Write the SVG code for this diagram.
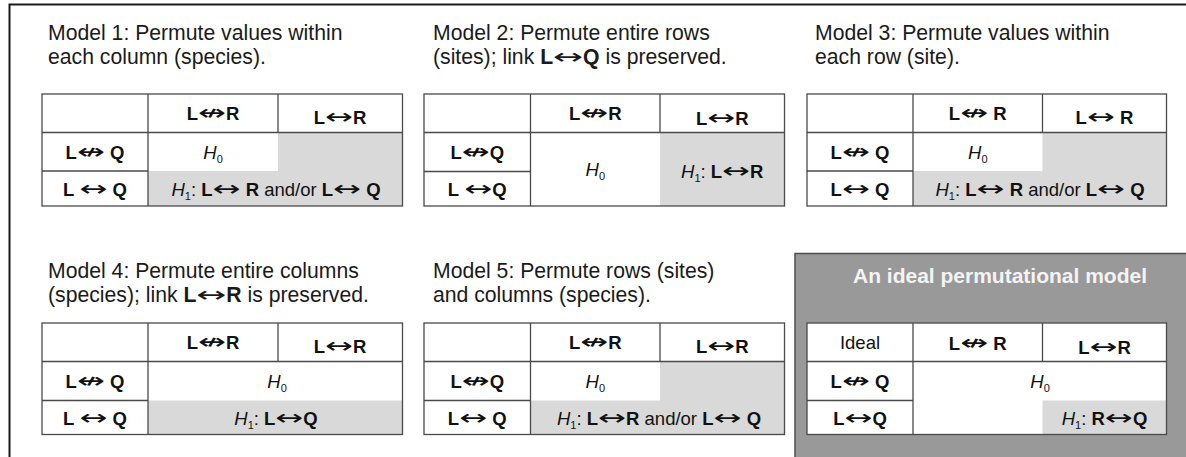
<svg xmlns="http://www.w3.org/2000/svg" width="1186" height="457" viewBox="0 0 1186 457">
<style>
.hd { font-family: "Liberation Sans", Arial, sans-serif; font-size: 21.2px; fill: #1a1a1a; }
.c { font-family: "Liberation Sans", Arial, sans-serif; font-size: 18.5px; fill: #111; text-anchor: middle; }
.b { font-weight: bold; }
.a { font-family: "DejaVu Sans", sans-serif; font-weight: normal; font-size: 21px; }
.i { font-style: italic; }
.s { font-size: 11px; }
.t { font-family: "Liberation Sans", Arial, sans-serif; font-size: 21px; font-weight: bold; fill: #f4f4f4; text-anchor: middle; }
.cell { fill: #ffffff; }
.g { fill: #d9d9d9; }
.ln { stroke: #4a4a4a; stroke-width: 1.3; fill: none; }
</style>

<path d="M9.5,470 V4.5 H1200" fill="none" stroke="#1a1a1a" stroke-width="2"/>
<rect id="ideal-panel" x="795" y="253.5" width="420" height="220" fill="#999999" stroke="#4d4d4d" stroke-width="1.5"/>
<text class="t" x="1000" y="283">An ideal permutational model</text>

<g id="headers">
  <text class="hd" x="48" y="39.5">Model 1: Permute values within</text>
  <text class="hd" x="48" y="63.5">each column (species).</text>
  <text class="hd" x="433" y="39.5">Model 2: Permute entire rows</text>
  <text class="hd" x="433" y="63.5">(sites); link <tspan class="b">L</tspan><tspan class="a" textLength="30" lengthAdjust="spacingAndGlyphs">↔</tspan><tspan class="b">Q</tspan> is preserved.</text>
  <text class="hd" x="815" y="39.5">Model 3: Permute values within</text>
  <text class="hd" x="815" y="63.5">each row (site).</text>
  <text class="hd" x="48" y="278">Model 4: Permute entire columns</text>
  <text class="hd" x="48" y="302">(species); link <tspan class="b">L</tspan><tspan class="a" textLength="30" lengthAdjust="spacingAndGlyphs">↔</tspan><tspan class="b">R</tspan> is preserved.</text>
  <text class="hd" x="433" y="278">Model 5: Permute rows (sites)</text>
  <text class="hd" x="433" y="302">and columns (species).</text>
</g>

<!-- Model 1 -->
<g id="model1">
  <rect class="cell" x="42" y="94" width="360.5" height="112"/>
  <rect class="g" x="148" y="132.5" width="254.5" height="73.5"/>
  <rect class="cell" x="148" y="132.5" width="130" height="38.5"/>
  <path class="ln" d="M42,132.5 H402.5 M42,171 H148 M148,94 V206 M278,94 V132.5"/>
  <rect class="ln" x="42" y="94" width="360.5" height="112"/>
  <text class="c" x="213" y="119.5"><tspan class="b">L</tspan><tspan class="a" textLength="28" lengthAdjust="spacingAndGlyphs">↮</tspan><tspan class="b">R</tspan></text>
  <text class="c" x="340" y="124"><tspan class="b">L</tspan><tspan class="a" textLength="28" lengthAdjust="spacingAndGlyphs">↔</tspan><tspan class="b">R</tspan></text>
  <text class="c" x="95" y="158.5"><tspan class="b">L</tspan><tspan class="a" textLength="28" lengthAdjust="spacingAndGlyphs">↮</tspan> <tspan class="b">Q</tspan></text>
  <text class="c" x="95" y="195.5"><tspan class="b">L</tspan> <tspan class="a" textLength="28" lengthAdjust="spacingAndGlyphs">↔</tspan> <tspan class="b">Q</tspan></text>
  <text class="c" x="213" y="158.5"><tspan class="i">H</tspan><tspan class="s" dy="4">0</tspan></text>
  <text class="c" x="276" y="196"><tspan class="i">H</tspan><tspan class="s" dy="4">1</tspan><tspan dy="-4">: </tspan><tspan class="b">L</tspan><tspan class="a" textLength="28" lengthAdjust="spacingAndGlyphs">↔</tspan> <tspan class="b">R</tspan> and/or <tspan class="b">L</tspan><tspan class="a" textLength="28" lengthAdjust="spacingAndGlyphs">↔</tspan> <tspan class="b">Q</tspan></text>
</g>

<!-- Model 2 -->
<g id="model2">
  <rect class="cell" x="424" y="94" width="360.5" height="112"/>
  <rect class="g" x="660" y="132.5" width="124.5" height="73.5"/>
  <path class="ln" d="M424,132.5 H784.5 M424,171.5 H530.5 M530.5,94 V206 M660,94 V132.5"/>
  <rect class="ln" x="424" y="94" width="360.5" height="112"/>
  <text class="c" x="595.25" y="119.5"><tspan class="b">L</tspan><tspan class="a" textLength="28" lengthAdjust="spacingAndGlyphs">↮</tspan><tspan class="b">R</tspan></text>
  <text class="c" x="722.25" y="124.5"><tspan class="b">L</tspan><tspan class="a" textLength="28" lengthAdjust="spacingAndGlyphs">↔</tspan><tspan class="b">R</tspan></text>
  <text class="c" x="477.25" y="158.5"><tspan class="b">L</tspan><tspan class="a" textLength="28" lengthAdjust="spacingAndGlyphs">↮</tspan><tspan class="b">Q</tspan></text>
  <text class="c" x="477.25" y="195.5"><tspan class="b">L</tspan> <tspan class="a" textLength="28" lengthAdjust="spacingAndGlyphs">↔</tspan><tspan class="b">Q</tspan></text>
  <text class="c" x="595.25" y="175.5"><tspan class="i">H</tspan><tspan class="s" dy="4">0</tspan></text>
  <text class="c" x="722.25" y="178"><tspan class="i">H</tspan><tspan class="s" dy="4">1</tspan><tspan dy="-4">: </tspan><tspan class="b">L</tspan><tspan class="a" textLength="28" lengthAdjust="spacingAndGlyphs">↔</tspan><tspan class="b">R</tspan></text>
</g>

<!-- Model 3 -->
<g id="model3">
  <rect class="cell" x="807" y="94" width="359.5" height="112"/>
  <rect class="g" x="913" y="132.5" width="253.5" height="73.5"/>
  <rect class="cell" x="913" y="132.5" width="129.5" height="38.5"/>
  <path class="ln" d="M807,132.5 H1166.5 M807,171 H913 M913,94 V206 M1042.5,94 V132.5"/>
  <rect class="ln" x="807" y="94" width="359.5" height="112"/>
  <text class="c" x="977.75" y="119.5"><tspan class="b">L</tspan><tspan class="a" textLength="28" lengthAdjust="spacingAndGlyphs">↮</tspan> <tspan class="b">R</tspan></text>
  <text class="c" x="1104.5" y="124"><tspan class="b">L</tspan><tspan class="a" textLength="28" lengthAdjust="spacingAndGlyphs">↔</tspan> <tspan class="b">R</tspan></text>
  <text class="c" x="860" y="158.5"><tspan class="b">L</tspan><tspan class="a" textLength="28" lengthAdjust="spacingAndGlyphs">↮</tspan> <tspan class="b">Q</tspan></text>
  <text class="c" x="860" y="195.5"><tspan class="b">L</tspan><tspan class="a" textLength="28" lengthAdjust="spacingAndGlyphs">↔</tspan> <tspan class="b">Q</tspan></text>
  <text class="c" x="977.75" y="158.5"><tspan class="i">H</tspan><tspan class="s" dy="4">0</tspan></text>
  <text class="c" x="1040" y="196"><tspan class="i">H</tspan><tspan class="s" dy="4">1</tspan><tspan dy="-4">: </tspan><tspan class="b">L</tspan><tspan class="a" textLength="28" lengthAdjust="spacingAndGlyphs">↔</tspan> <tspan class="b">R</tspan> and/or <tspan class="b">L</tspan><tspan class="a" textLength="28" lengthAdjust="spacingAndGlyphs">↔</tspan> <tspan class="b">Q</tspan></text>
</g>

<!-- Model 4 -->
<g id="model4">
  <rect class="cell" x="42" y="323" width="360.5" height="111.5"/>
  <rect class="g" x="148" y="400.5" width="254.5" height="34"/>
  <path class="ln" d="M42,361.5 H402.5 M42,400.5 H148 M148,323 V434.5 M278,323 V361.5"/>
  <rect class="ln" x="42" y="323" width="360.5" height="111.5"/>
  <text class="c" x="213" y="348.5"><tspan class="b">L</tspan><tspan class="a" textLength="28" lengthAdjust="spacingAndGlyphs">↮</tspan><tspan class="b">R</tspan></text>
  <text class="c" x="340" y="353"><tspan class="b">L</tspan><tspan class="a" textLength="28" lengthAdjust="spacingAndGlyphs">↔</tspan><tspan class="b">R</tspan></text>
  <text class="c" x="95" y="387.5"><tspan class="b">L</tspan><tspan class="a" textLength="28" lengthAdjust="spacingAndGlyphs">↮</tspan> <tspan class="b">Q</tspan></text>
  <text class="c" x="95" y="424.5"><tspan class="b">L</tspan> <tspan class="a" textLength="28" lengthAdjust="spacingAndGlyphs">↔</tspan> <tspan class="b">Q</tspan></text>
  <text class="c" x="277" y="387.5"><tspan class="i">H</tspan><tspan class="s" dy="4">0</tspan></text>
  <text class="c" x="276" y="425"><tspan class="i">H</tspan><tspan class="s" dy="4">1</tspan><tspan dy="-4">: </tspan><tspan class="b">L</tspan><tspan class="a" textLength="28" lengthAdjust="spacingAndGlyphs">↔</tspan><tspan class="b">Q</tspan></text>
</g>

<!-- Model 5 -->
<g id="model5">
  <rect class="cell" x="424" y="323" width="360.5" height="111.5"/>
  <rect class="g" x="530.5" y="361.5" width="254" height="73"/>
  <rect class="cell" x="530.5" y="361.5" width="129.5" height="39"/>
  <path class="ln" d="M424,361.5 H784.5 M424,400.5 H530.5 M530.5,323 V434.5 M660,323 V361.5"/>
  <rect class="ln" x="424" y="323" width="360.5" height="111.5"/>
  <text class="c" x="595.25" y="348.5"><tspan class="b">L</tspan><tspan class="a" textLength="28" lengthAdjust="spacingAndGlyphs">↮</tspan><tspan class="b">R</tspan></text>
  <text class="c" x="722.25" y="353"><tspan class="b">L</tspan><tspan class="a" textLength="28" lengthAdjust="spacingAndGlyphs">↔</tspan><tspan class="b">R</tspan></text>
  <text class="c" x="477.25" y="387.5"><tspan class="b">L</tspan><tspan class="a" textLength="28" lengthAdjust="spacingAndGlyphs">↮</tspan><tspan class="b">Q</tspan></text>
  <text class="c" x="477.25" y="424.5"><tspan class="b">L</tspan><tspan class="a" textLength="28" lengthAdjust="spacingAndGlyphs">↔</tspan> <tspan class="b">Q</tspan></text>
  <text class="c" x="595.25" y="387.5"><tspan class="i">H</tspan><tspan class="s" dy="4">0</tspan></text>
  <text class="c" x="659" y="425"><tspan class="i">H</tspan><tspan class="s" dy="4">1</tspan><tspan dy="-4">: </tspan><tspan class="b">L</tspan><tspan class="a" textLength="28" lengthAdjust="spacingAndGlyphs">↔</tspan><tspan class="b">R</tspan> and/or <tspan class="b">L</tspan><tspan class="a" textLength="28" lengthAdjust="spacingAndGlyphs">↔</tspan> <tspan class="b">Q</tspan></text>
</g>

<!-- Ideal model -->
<g id="ideal">
  <rect class="cell" x="807" y="323" width="359.5" height="111.5"/>
  <rect class="g" x="1042.5" y="400.5" width="124" height="34"/>
  <path class="ln" d="M807,361.5 H1166.5 M807,400.5 H913 M913,323 V434.5 M1042.5,323 V361.5"/>
  <rect class="ln" x="807" y="323" width="359.5" height="111.5"/>
  <text class="c" x="860" y="348.5">Ideal</text>
  <text class="c" x="977.75" y="350"><tspan class="b">L</tspan><tspan class="a" textLength="28" lengthAdjust="spacingAndGlyphs">↮</tspan> <tspan class="b">R</tspan></text>
  <text class="c" x="1104.5" y="353.5"><tspan class="b">L</tspan><tspan class="a" textLength="28" lengthAdjust="spacingAndGlyphs">↔</tspan><tspan class="b">R</tspan></text>
  <text class="c" x="860" y="387.5"><tspan class="b">L</tspan><tspan class="a" textLength="28" lengthAdjust="spacingAndGlyphs">↮</tspan> <tspan class="b">Q</tspan></text>
  <text class="c" x="860" y="424.5"><tspan class="b">L</tspan><tspan class="a" textLength="28" lengthAdjust="spacingAndGlyphs">↔</tspan><tspan class="b">Q</tspan></text>
  <text class="c" x="1040" y="387.5"><tspan class="i">H</tspan><tspan class="s" dy="4">0</tspan></text>
  <text class="c" x="1104.5" y="425"><tspan class="i">H</tspan><tspan class="s" dy="4">1</tspan><tspan dy="-4">: </tspan><tspan class="b">R</tspan><tspan class="a" textLength="28" lengthAdjust="spacingAndGlyphs">↔</tspan><tspan class="b">Q</tspan></text>
</g>

<g id="connectors"></g>
</svg>
